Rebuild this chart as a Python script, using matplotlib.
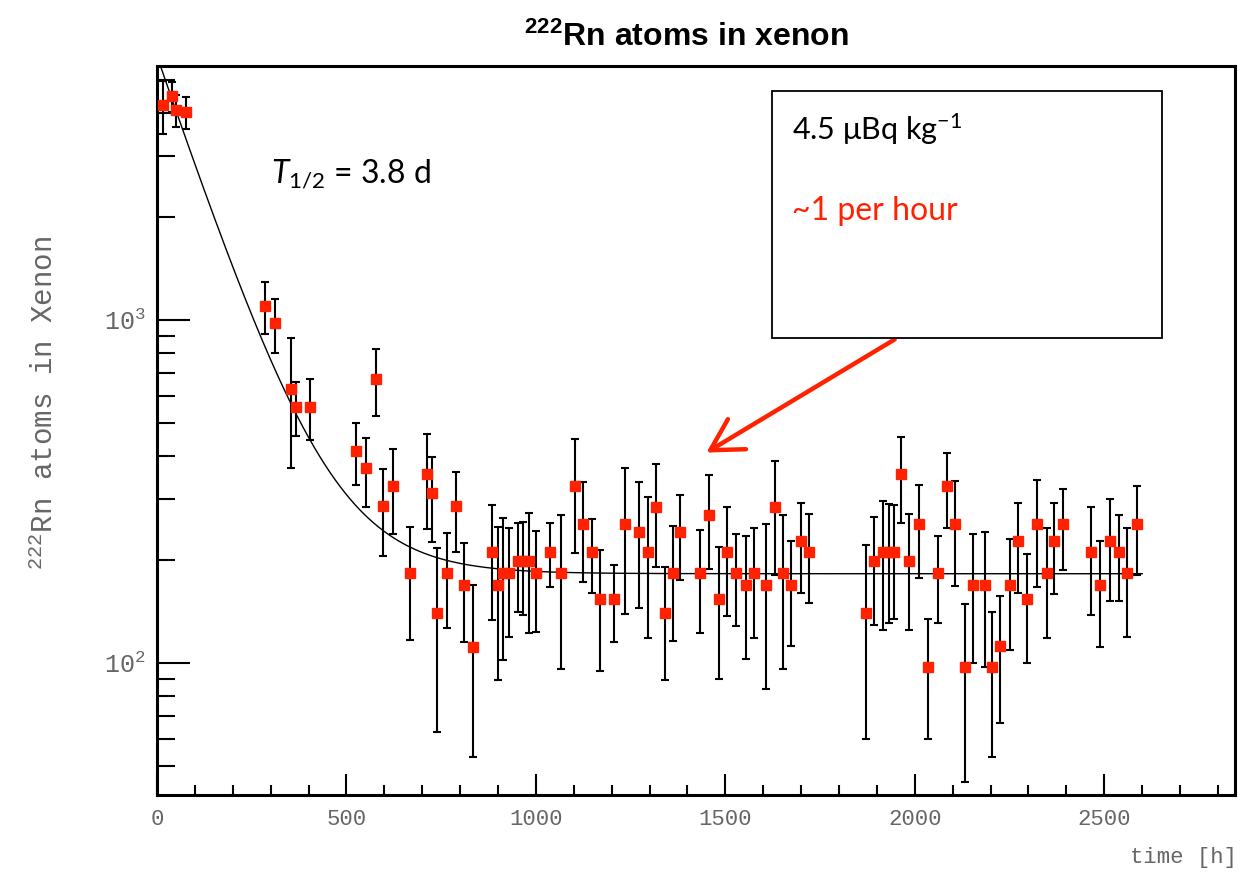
import numpy as np
import matplotlib
matplotlib.use("Agg")
import matplotlib.pyplot as plt
from matplotlib.patches import Rectangle
from matplotlib.ticker import LogLocator, NullFormatter, FixedLocator, MultipleLocator

# radon-222 atoms in xenon
t_h = [16, 40, 50, 77,
       285, 311, 353, 366, 404, 526, 551, 577, 597, 624, 668, 712, 725, 740,
       765, 789, 810, 835, 884, 901, 914, 930, 954, 967, 982, 1000, 1036, 1067,
       1102, 1123, 1148, 1168, 1205, 1234, 1271, 1295, 1317, 1342, 1361, 1381,
       1434, 1458, 1484, 1505, 1528, 1554, 1576, 1607, 1631, 1653, 1673, 1699, 1720,
       1872, 1893, 1917, 1931, 1944, 1964, 1984, 2010, 2035, 2061, 2086, 2107,
       2132, 2154, 2184, 2204, 2224, 2250, 2271, 2296, 2322, 2348, 2367, 2392,
       2464, 2489, 2516, 2540, 2560, 2586]
n_atoms = [4240, 4500, 4090, 4035,
           1098, 978, 629, 559, 559, 415, 369, 672, 286, 329, 183, 355, 312, 140,
           183, 286, 169, 111, 211, 169, 183, 183, 198, 198, 198, 183, 211, 183,
           329, 254, 211, 154, 154, 254, 241, 211, 285, 140, 183, 241,
           183, 270, 154, 211, 183, 169, 183, 169, 285, 183, 169, 226, 211,
           140, 198, 211, 211, 211, 355, 198, 254, 97, 183, 329, 254,
           97, 169, 169, 97, 112, 169, 226, 154, 254, 183, 226, 254,
           211, 169, 226, 211, 183, 254]
n_err = [748, 455, 450, 420,
         188, 175, 258, 100, 113, 85, 84, 149, 81, 92, 66, 110, 87, 77,
         57, 75, 54, 58, 78, 80, 81, 64, 57, 60, 76, 60, 45, 87,
         120, 82, 51, 59, 39, 115, 96, 93, 95, 51, 67, 67,
         61, 82, 64, 74, 55, 66, 65, 85, 104, 87, 57, 66, 61,
         80, 69, 86, 80, 77, 100, 73, 77, 37, 52, 81, 86,
         52, 69, 72, 44, 45, 60, 66, 54, 87, 65, 67, 67,
         73, 58, 74, 59, 64, 73]

# fit: exponential decay plus constant level
fit_amp = 5700.0
fit_halflife_h = 3.8 * 24
fit_const = 182.0
fit_tmax = 2600

plt.rcParams['mathtext.fontset'] = 'custom'
plt.rcParams['mathtext.rm'] = 'Lato'
plt.rcParams['mathtext.it'] = 'Lato:italic'
plt.rcParams['mathtext.tt'] = 'Liberation Mono'
plt.rcParams['mathtext.bf'] = 'Liberation Sans:bold'

W, H = 1251, 872
fig = plt.figure(figsize=(W / 100, H / 100), dpi=100)
ax = fig.add_axes([157 / W, 1 - 795 / H, (1235 - 157) / W, (795 - 66) / H])

red = '#ff2200'
ax.errorbar(t_h, n_atoms, yerr=n_err, fmt='s', color=red, ms=6.5, mec=red,
            ecolor='black', elinewidth=1.5, capsize=3, capthick=1.5, zorder=3)

tt = np.linspace(0, fit_tmax, 600)
ax.plot(tt, fit_amp * np.exp(-np.log(2) * tt / fit_halflife_h) + fit_const,
        color='black', lw=1.0, zorder=2)

ax.set_yscale('log')
ax.set_xlim(0, 2845)
ax.set_ylim(41.2, 5500)

for s in ax.spines.values():
    s.set_linewidth(2.2)

ax.xaxis.set_major_locator(MultipleLocator(500))
ax.xaxis.set_minor_locator(MultipleLocator(100))
ax.yaxis.set_major_locator(FixedLocator([100, 1000]))
ax.yaxis.set_minor_locator(LogLocator(base=10, subs=np.arange(2, 10)))
ax.yaxis.set_minor_formatter(NullFormatter())
ax.set_yticklabels([r'$\mathtt{10^{2}}$', r'$\mathtt{10^{3}}$'])
ax.tick_params(axis='x', which='major', direction='in', length=15, width=1.5,
               labelsize=16, labelcolor='#666666', pad=10)
ax.tick_params(axis='x', which='minor', direction='in', length=7, width=1.5)
ax.tick_params(axis='y', which='major', direction='in', length=24, width=1.5,
               labelsize=18, labelcolor='#666666', pad=8)
ax.tick_params(axis='y', which='minor', direction='in', length=13, width=1.5)
for lab in ax.get_xticklabels():
    lab.set_family('Liberation Mono')

fig.text(1237 / W, 1 - 857 / H, 'time [h]', ha='right', va='center',
         family='Liberation Mono', fontsize=16, color='#666666')
fig.text(45 / W, 1 - 403 / H, r'$^{\mathtt{222}}$Rn atoms in Xenon', rotation=90,
         ha='center', va='center', family='Liberation Mono', fontsize=21, color='#666666')
fig.text(686 / W, 1 - 37 / H, r'$\mathbf{^{222}}$Rn atoms in xenon', ha='center',
         va='center', family='Liberation Sans', weight='bold', fontsize=23)

fig.text(271 / W, 1 - 182 / H, r'$T_{1/2}$ = 3.8 d', family='Lato', fontsize=23,
         va='baseline', ha='left')

fig.add_artist(Rectangle((772 / W, 1 - 338 / H), 390 / W, 247 / H,
                         transform=fig.transFigure, facecolor='white',
                         edgecolor='black', lw=1.3, zorder=5))
fig.text(792 / W, 1 - 140 / H, r'4.5 μBq kg$^{-1}$', family='Lato', fontsize=22,
         va='baseline', zorder=6)
fig.text(792 / W, 1 - 220 / H, '~1 per hour', family='Lato', fontsize=23,
         color=red, va='baseline', zorder=6)

ax.annotate('', xy=(704 / W, 1 - 454 / H), xycoords='figure fraction',
            xytext=(897 / W, 1 - 338 / H), textcoords='figure fraction',
            arrowprops=dict(arrowstyle='->,head_length=0.8,head_width=0.45',
                            color=red, lw=3.2, mutation_scale=28),
            annotation_clip=False, zorder=6)

fig.savefig('out.png', dpi=100)
